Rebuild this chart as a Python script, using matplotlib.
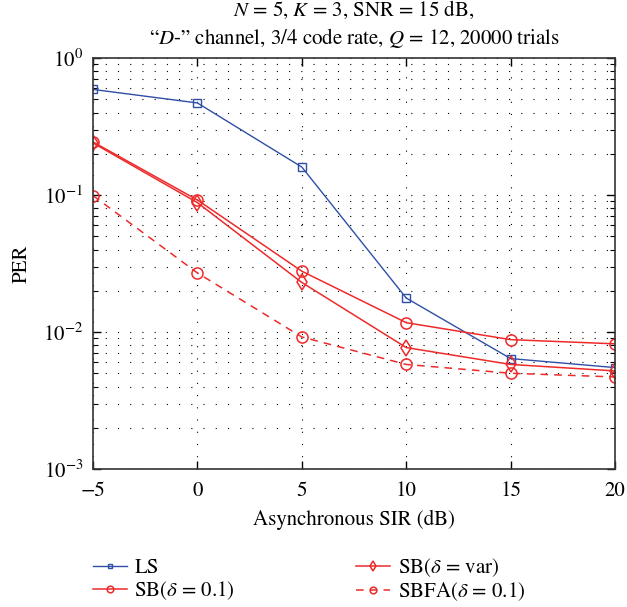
import matplotlib
matplotlib.use("Agg")
import matplotlib.pyplot as plt
from matplotlib.ticker import LogLocator, FixedLocator, NullFormatter

plt.rcParams['font.family'] = ['STIXGeneral', 'DejaVu Serif']
plt.rcParams['mathtext.fontset'] = 'stix'

sir = [-5, 0, 5, 10, 15, 20]
per_ls = [0.59, 0.47, 0.16, 0.0177, 0.0064, 0.0055]
per_sb = [0.244, 0.092, 0.0278, 0.0117, 0.0088, 0.0082]
per_sbvar = [0.240, 0.088, 0.0230, 0.0077, 0.0058, 0.0052]
per_sbfa = [0.099, 0.027, 0.0092, 0.0058, 0.0050, 0.0047]

xticks = [-5, 0, 5, 10, 15, 20]
xticklabels = ["\u22125", "0", "5", "10", "15", "20"]

blue = "#2f4fa6"
red = "#ee2a2a"

fig = plt.figure(figsize=(6.27, 6.07), dpi=100)
ax = fig.add_axes([0.1483, 0.2273, 0.8327, 0.6771])

ax.plot(sir, per_ls, color=blue, lw=1.0, marker='s', ms=5.5, mfc='none', mew=1.0, label="LS")
ax.plot(sir, per_sb, color=red, lw=1.1, marker='o', ms=8, mfc='none', mew=1.1, label=r"SB($\delta$ = 0.1)")
ax.plot(sir, per_sbvar, color=red, lw=1.1, marker='d', ms=8, mfc='none', mew=1.1, label=r"SB($\delta$ = var)")
ax.plot(sir, per_sbfa, color=red, lw=1.1, ls=(0, (5, 4)), marker='o', ms=8, mfc='none', mew=1.1,
        label=r"SBFA($\delta$ = 0.1)")

ax.set_yscale('log')
ax.set_xlim(-5, 20)
ax.set_ylim(1e-3, 1)
ax.xaxis.set_major_locator(FixedLocator(xticks))
ax.set_xticklabels(xticklabels)
ax.yaxis.set_major_locator(LogLocator(base=10, numticks=10))
ax.yaxis.set_minor_locator(LogLocator(base=10, subs=range(2, 10), numticks=10))
ax.yaxis.set_minor_formatter(NullFormatter())

ax.tick_params(which='both', direction='in', top=True, right=True, labelsize=15)
ax.tick_params(axis='x', pad=9)
ax.tick_params(axis='y', pad=7)
ax.tick_params(which='major', length=6, width=1.0)
ax.tick_params(which='minor', length=3.5, width=0.8)
for s in ax.spines.values():
    s.set_linewidth(1.2)
    s.set_color("#333333")

ax.grid(True, which='major', axis='both', color='black', lw=0.8, ls=(0, (1, 10)))
ax.grid(True, which='minor', axis='y', color='black', lw=0.8, ls=(0, (1, 10)))
ax.set_axisbelow(True)

ax.set_xlabel("Asynchronous SIR (dB)", fontsize=15, labelpad=6)
ax.set_ylabel("PER", fontsize=15, labelpad=8)
ax.set_title("$N$ = 5, $K$ = 3, SNR = 15 dB,\n\u201c$D$-\u201d channel, 3/4 code rate, $Q$ = 12, 20000 trials",
             fontsize=15, pad=10, linespacing=1.3)

leg = fig.legend(loc='center left', bbox_to_anchor=(0.118, 0.045), ncol=2, frameon=False, fontsize=15,
                 handlelength=1.65, handletextpad=0.35, columnspacing=5.8, labelspacing=0.05,
                 markerscale=0.6)

fig.savefig("out.png", dpi=100)
